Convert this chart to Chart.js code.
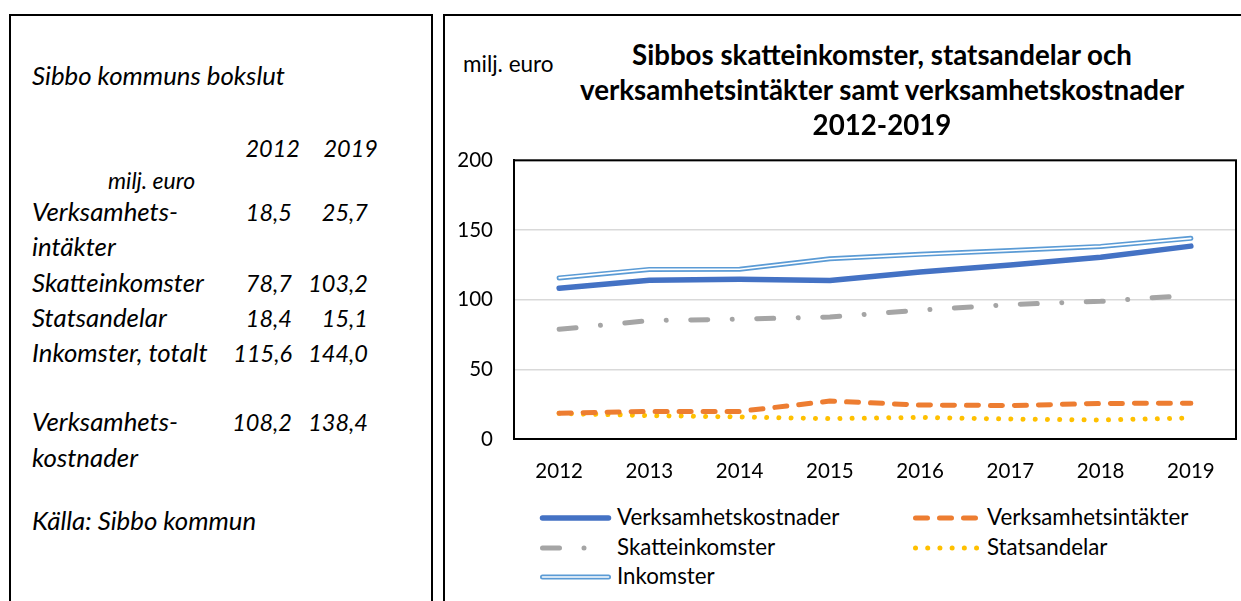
<!DOCTYPE html>
<html>
<head>
<meta charset="utf-8">
<script src="https://cdn.jsdelivr.net/npm/chart.js@4"></script>
<style>
    body { margin: 0; width: 1241px; height: 601px; background: #fff; position: relative; overflow: hidden; font-family: Lato, sans-serif; color: #000; }
    .box { position: absolute; border: 2px solid #000; border-bottom: none; }
    .txt { position: absolute; white-space: nowrap; line-height: 1; }
    .it { font-style: italic; }
    .b { font-weight: bold; }
    #chartwrap { position: absolute; left: 444px; top: 127px; }
</style>
</head>
<body>
<div class="box" style="left:9px; top:14px; width:420px; height:600px;"></div>
<div class="box" style="left:443px; top:14px; width:800px; height:600px;"></div>
<div id="chartwrap"><canvas id="sibbo_chart" width="797" height="353" style="width:797px;height:353px;"></canvas></div>

<script>
const years = ['2012', '2013', '2014', '2015', '2016', '2017', '2018', '2019']
const verksamhetskostnader = [108.2, 114.0, 114.6, 113.8, 119.8, 124.8, 130.5, 138.4]
const verksamhetsintakter = [18.5, 19.8, 19.8, 27.2, 24.4, 24.0, 25.5, 25.7]
const skatteinkomster = [78.7, 85.0, 86.0, 87.5, 92.5, 96.5, 98.8, 103.2]
const statsandelar = [18.4, 16.8, 15.8, 14.6, 15.5, 14.3, 13.6, 15.1]
const inkomster = [115.6, 121.7, 121.8, 129.4, 132.5, 135.3, 138.2, 144.0]
const y_ticks = [0, 50, 100, 150, 200]

const title_lines = ['Sibbos skatteinkomster, statsandelar och', 'verksamhetsintäkter samt verksamhetskostnader', '2012-2019']

// left-hand table: label, 2012, 2019
const table_labels = ['Verksamhets-', 'intäkter', 'Skatteinkomster', 'Statsandelar', 'Inkomster, totalt', 'Verksamhets-', 'kostnader']
const table_2012 = ['18,5', '', '78,7', '18,4', '115,6', '108,2', '']
const table_2019 = ['25,7', '', '103,2', '15,1', '144,0', '138,4', '']
const table_baselines = [222, 257, 293, 328, 363, 432, 468]

function put_text(text, x, baseline, size, cls, align) {
    const d = document.createElement('div')
    d.className = 'txt ' + (cls || '')
    d.textContent = text
    d.style.fontSize = size + 'px'
    d.style.left = x + 'px'
    d.style.top = (baseline - size * 0.89) + 'px'
    if (align == 'right') d.style.transform = 'translateX(-100%)'
    if (align == 'center') d.style.transform = 'translateX(-50%)'
    document.body.appendChild(d)
    return d
}

// left panel
const lab_size = 25.8
const num_size = 23.5
put_text('Sibbo kommuns bokslut', 32, 86, lab_size, 'it')
put_text('2012', 300, 158, num_size, 'it', 'right')
put_text('2019', 378, 158, num_size, 'it', 'right')
put_text('milj. euro', 108, 189, 23, 'it')
table_labels.forEach((lab, i) => {
    put_text(lab, 32, table_baselines[i], lab_size, 'it')
    if (table_2012[i]) put_text(table_2012[i], 292, table_baselines[i], num_size, 'it', 'right')
    if (table_2019[i]) put_text(table_2019[i], 368, table_baselines[i], num_size, 'it', 'right')
})
put_text('Källa: Sibbo kommun', 32, 531, lab_size, 'it')

// right panel texts
put_text('milj. euro', 463, 73, 22.5, '')
title_lines.forEach((line, i) => {
    put_text(line, 882, 66 + i * 35, 27.7, 'b', 'center')
})

// series styles (chart + legend share them)
const series = [
    { label: 'Verksamhetskostnader', data: verksamhetskostnader, color: '#4472C4', width: 5.5, dash: [] },
    { label: 'Verksamhetsintäkter', data: verksamhetsintakter, color: '#ED7D31', width: 5, dash: [12, 12] },
    { label: 'Skatteinkomster', data: skatteinkomster, color: '#A5A5A5', width: 5, dash: [17, 24.5, 0.01, 24.5] },
    { label: 'Statsandelar', data: statsandelar, color: '#FFC000', width: 5, dash: [0.01, 12.2] },
    { label: 'Inkomster', data: inkomster, color: '#5B9BD5', width: 5, dash: [], double: true },
]

// legend (html)
const legend_pos = [[540, 518], [913, 518], [540, 548], [913, 548], [540, 577]]
series.forEach((s, i) => {
    const [lx, ly] = legend_pos[i]
    const w = i % 2 == 0 ? 71 : 67
    const svg = `<svg width="${w}" height="12" style="position:absolute;left:${lx}px;top:${ly - 6}px;overflow:visible">
        <line x1="2.5" y1="6" x2="${w - 2.5}" y2="6" stroke="${s.color}" stroke-width="${s.width}" stroke-linecap="round" stroke-dasharray="${s.dash.length ? s.dash.join(' ') : 'none'}"/>
        ${s.double ? `<line x1="2.5" y1="6" x2="${w - 2.5}" y2="6" stroke="#fff" stroke-width="1.6" stroke-linecap="round"/>` : ''}
    </svg>`
    const holder = document.createElement('div')
    holder.innerHTML = svg
    document.body.appendChild(holder)
    put_text(s.label, i % 2 == 0 ? 617 : 987, ly + 8, 22.3, '')
})

const frame_plugin = {
    id: 'frame',
    beforeDatasetsDraw(chart) {
        const a = chart.chartArea
        const ctx = chart.ctx
        ctx.save()
        ctx.strokeStyle = '#000'
        ctx.lineWidth = 2
        ctx.strokeRect(a.left, a.top, a.right - a.left, a.bottom - a.top)
        ctx.restore()
    }
}

const datasets = series.map(s => ({
    label: s.label,
    data: s.data,
    borderColor: s.color,
    borderWidth: s.width,
    borderDash: s.dash,
    borderCapStyle: 'round',
    borderJoinStyle: 'round',
    pointRadius: 0,
    tension: 0,
    order: 2
}))
// white core of the double line for Inkomster
datasets.push({
    label: 'Inkomster_core',
    data: inkomster,
    borderColor: '#ffffff',
    borderWidth: 1.6,
    borderCapStyle: 'round',
    borderJoinStyle: 'round',
    pointRadius: 0,
    tension: 0,
    order: 0
})

const tick_font = { family: 'Lato', size: 20.5 }

new Chart(document.getElementById('sibbo_chart'), {
    type: 'line',
    data: { labels: years, datasets: datasets },
    options: {
        responsive: false,
        animation: false,
        layout: { padding: { top: 0, right: 5, left: 0, bottom: 0 } },
        plugins: { legend: { display: false }, tooltip: { enabled: false } },
        scales: {
            x: {
                offset: true,
                grid: { display: false, drawTicks: false },
                border: { color: '#000', width: 2 },
                ticks: { color: '#000', font: tick_font, padding: 20, maxRotation: 0 },
                afterFit(scale) { scale.height = 41 }
            },
            y: {
                min: 0,
                max: 200,
                afterBuildTicks(scale) { scale.ticks = y_ticks.map(v => ({ value: v })) },
                grid: { color: '#D9D9D9', lineWidth: 1.5, drawTicks: false },
                border: { color: '#000', width: 2 },
                ticks: { color: '#000', font: tick_font, padding: 21 },
                afterFit(scale) { scale.width = 70 }
            }
        }
    },
    plugins: [frame_plugin]
});
</script>
</body>
</html>
